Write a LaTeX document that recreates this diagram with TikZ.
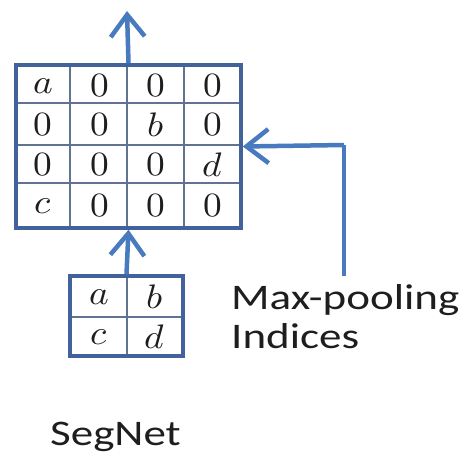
\documentclass[tikz,border=0pt]{standalone}
\usepackage{unicode-math}
\setmainfont{Carlito}[FakeStretch=1.25]
\setmathfont{Latin Modern Math}
\usetikzlibrary{arrows.meta}
\definecolor{arrowblue}{RGB}{72,122,192}
\definecolor{frameblue}{RGB}{66,98,156}
\definecolor{gridline}{RGB}{96,116,146}
\definecolor{ink}{RGB}{30,30,30}
\tikzset{
  flow/.style={draw=arrowblue, line width=4.5pt,
    -{Straight Barb[length=22pt,width=34pt,line width=4.5pt]}},
  gridbox/.style={draw=frameblue, line width=3.5pt, inner sep=0pt},
  inner/.style={draw=gridline, line width=1.6pt},
  cell/.style={font=\fontsize{34}{36}\selectfont, text=ink, xscale=1.1, transform shape, inner sep=0pt},
  label/.style={font=\fontsize{36}{40}\selectfont, text=ink, anchor=base west, inner sep=0pt}
}
\begin{document}
\begin{tikzpicture}[x=1pt,y=-1pt]
\useasboundingbox[fill=white] (0,0) rectangle (463,453);

% unpooled 4x4 map
\node[gridbox, minimum width=225pt, minimum height=163pt] (big) at (128.5,146.5) {};
\foreach \x in {70,127,184}
  \draw[inner] (\x,65) -- (\x,228);
\foreach \y in {103,145,183}
  \draw[inner] (16,\y) -- (241,\y);
\node[gridbox, minimum width=225pt, minimum height=163pt] at (128.5,146.5) {};

\foreach \r/\yy/\entries in {1/86/{a,0,0,0}, 2/125/{0,0,b,0}, 3/165/{0,0,0,d}, 4/206/{c,0,0,0}}{
  \foreach \v [count=\c] in \entries {
    \pgfmathsetmacro{\xx}{43+56.5*(\c-1)}
    \node[cell] (m\r\c) at (\xx,\yy) {$\v$};
  }
}

% pooled 2x2 map
\node[gridbox, minimum width=113pt, minimum height=80pt] (small) at (126.5,316) {};
\draw[inner] (127,276) -- (127,356);
\draw[inner] (70,317) -- (183,317);
\node[gridbox, minimum width=113pt, minimum height=80pt] at (126.5,316) {};
\node[cell] (sa) at (99,297) {$a$};
\node[cell] (sb) at (155,297) {$b$};
\node[cell] (sc) at (99,337) {$c$};
\node[cell] (sd) at (155,337) {$d$};

% connectors
\coordinate (top) at (127,11);
\coordinate (corner) at (344,145);
\coordinate (idx) at (344,276);
\draw[flow] (small.north) -- (big.south);
\draw[flow] (big.north) -- (top);
\draw[draw=arrowblue, line width=4.5pt] (idx) -- (corner);
\draw[flow] (corner) -- (big.east);

% labels
\node[label] (mp) at (231,309) {Max-pooling};
\node[label] (ind) at (231,348) {Indices};
\node[label] (seg) at (50,445) {SegNet};
\end{tikzpicture}
\end{document}
